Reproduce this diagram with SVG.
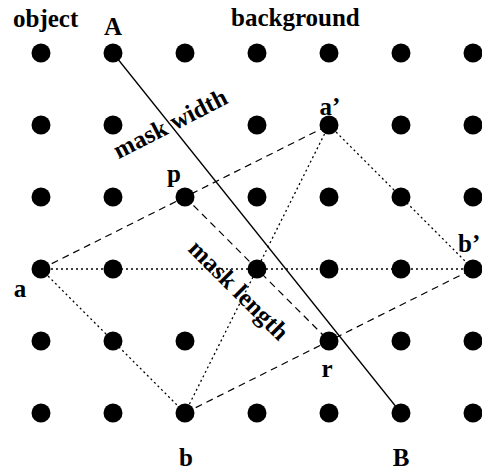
<svg xmlns="http://www.w3.org/2000/svg" width="482" height="473" viewBox="0 0 482 473">
<style>
.dot{fill:#000}
.lbl{font-family:"Liberation Serif","Times New Roman",serif;font-weight:bold;font-size:25px;fill:#000}
.mid{text-anchor:middle}
.solid{stroke:#000;stroke-width:1.3;fill:none}
.dash{stroke:#000;stroke-width:1.2;fill:none;stroke-dasharray:7,5}
.dot-line{stroke:#000;stroke-width:1.3;fill:none;stroke-dasharray:2,3}
</style>
<rect width="482" height="473" fill="#fff"/>
<g id="connectors">
<line class="solid" x1="113" y1="53" x2="401" y2="413"/>
<line class="dash" x1="41" y1="269" x2="329" y2="125"/>
<line class="dash" x1="185" y1="197" x2="329" y2="341"/>
<line class="dash" x1="185" y1="413" x2="473" y2="269"/>
<line class="dot-line" x1="41" y1="269" x2="473" y2="269"/>
<line class="dot-line" x1="41" y1="269" x2="185" y2="413"/>
<line class="dot-line" x1="185" y1="413" x2="329" y2="125"/>
<line class="dot-line" x1="329" y1="125" x2="473" y2="269"/>
</g>
<g id="row0">
<g id="n0_0"><circle class="dot" cx="41" cy="53" r="9.5"/></g>
<g id="A"><circle class="dot" cx="113" cy="53" r="9.5"/><text class="lbl mid" x="113" y="35">A</text></g>
<g id="n2_0"><circle class="dot" cx="185" cy="53" r="9.5"/></g>
<g id="n3_0"><circle class="dot" cx="257" cy="53" r="9.5"/></g>
<g id="n4_0"><circle class="dot" cx="329" cy="53" r="9.5"/></g>
<g id="n5_0"><circle class="dot" cx="401" cy="53" r="9.5"/></g>
<g id="n6_0"><circle class="dot" cx="473" cy="53" r="9.5"/></g>
</g>
<g id="row1">
<g id="n0_1"><circle class="dot" cx="41" cy="125" r="9.5"/></g>
<g id="n1_1"><circle class="dot" cx="113" cy="125" r="9.5"/></g>
<g id="n3_1"><circle class="dot" cx="257" cy="125" r="9.5"/></g>
<g id="a_prime"><circle class="dot" cx="329" cy="125" r="9.5"/><text class="lbl mid" x="330" y="115">a’</text></g>
<g id="n5_1"><circle class="dot" cx="401" cy="125" r="9.5"/></g>
<g id="n6_1"><circle class="dot" cx="473" cy="125" r="9.5"/></g>
</g>
<g id="row2">
<g id="n0_2"><circle class="dot" cx="41" cy="197" r="9.5"/></g>
<g id="n1_2"><circle class="dot" cx="113" cy="197" r="9.5"/></g>
<g id="p"><circle class="dot" cx="185" cy="197" r="9.5"/><text class="lbl mid" x="174" y="182">p</text></g>
<g id="n3_2"><circle class="dot" cx="257" cy="197" r="9.5"/></g>
<g id="n4_2"><circle class="dot" cx="329" cy="197" r="9.5"/></g>
<g id="n5_2"><circle class="dot" cx="401" cy="197" r="9.5"/></g>
<g id="n6_2"><circle class="dot" cx="473" cy="197" r="9.5"/></g>
</g>
<g id="row3">
<g id="a"><circle class="dot" cx="41" cy="269" r="9.5"/><text class="lbl mid" x="20" y="297">a</text></g>
<g id="n1_3"><circle class="dot" cx="113" cy="269" r="9.5"/></g>
<g id="n3_3"><circle class="dot" cx="257" cy="269" r="9.5"/></g>
<g id="n4_3"><circle class="dot" cx="329" cy="269" r="9.5"/></g>
<g id="n5_3"><circle class="dot" cx="401" cy="269" r="9.5"/></g>
<g id="b_prime"><circle class="dot" cx="473" cy="269" r="9.5"/><text class="lbl" x="458" y="252">b’</text></g>
</g>
<g id="row4">
<g id="n0_4"><circle class="dot" cx="41" cy="341" r="9.5"/></g>
<g id="n1_4"><circle class="dot" cx="113" cy="341" r="9.5"/></g>
<g id="n2_4"><circle class="dot" cx="185" cy="341" r="9.5"/></g>
<g id="r"><circle class="dot" cx="329" cy="341" r="9.5"/><text class="lbl mid" x="327" y="377">r</text></g>
<g id="n5_4"><circle class="dot" cx="401" cy="341" r="9.5"/></g>
<g id="n6_4"><circle class="dot" cx="473" cy="341" r="9.5"/></g>
</g>
<g id="row5">
<g id="n0_5"><circle class="dot" cx="41" cy="413" r="9.5"/></g>
<g id="n1_5"><circle class="dot" cx="113" cy="413" r="9.5"/></g>
<g id="b"><circle class="dot" cx="185" cy="413" r="9.5"/><text class="lbl mid" x="186" y="466">b</text></g>
<g id="n3_5"><circle class="dot" cx="257" cy="413" r="9.5"/></g>
<g id="n4_5"><circle class="dot" cx="329" cy="413" r="9.5"/></g>
<g id="B"><circle class="dot" cx="401" cy="413" r="9.5"/><text class="lbl mid" x="401" y="466">B</text></g>
<g id="n6_5"><circle class="dot" cx="473" cy="413" r="9.5"/></g>
</g>
<g id="labels">
<text class="lbl" x="13" y="27">object</text>
<text class="lbl" x="231" y="26">background</text>
<text class="lbl mid" transform="translate(174,131) rotate(-27)">mask width</text>
<text class="lbl mid" transform="translate(233,296) rotate(45)">mask length</text>
</g>
</svg>
